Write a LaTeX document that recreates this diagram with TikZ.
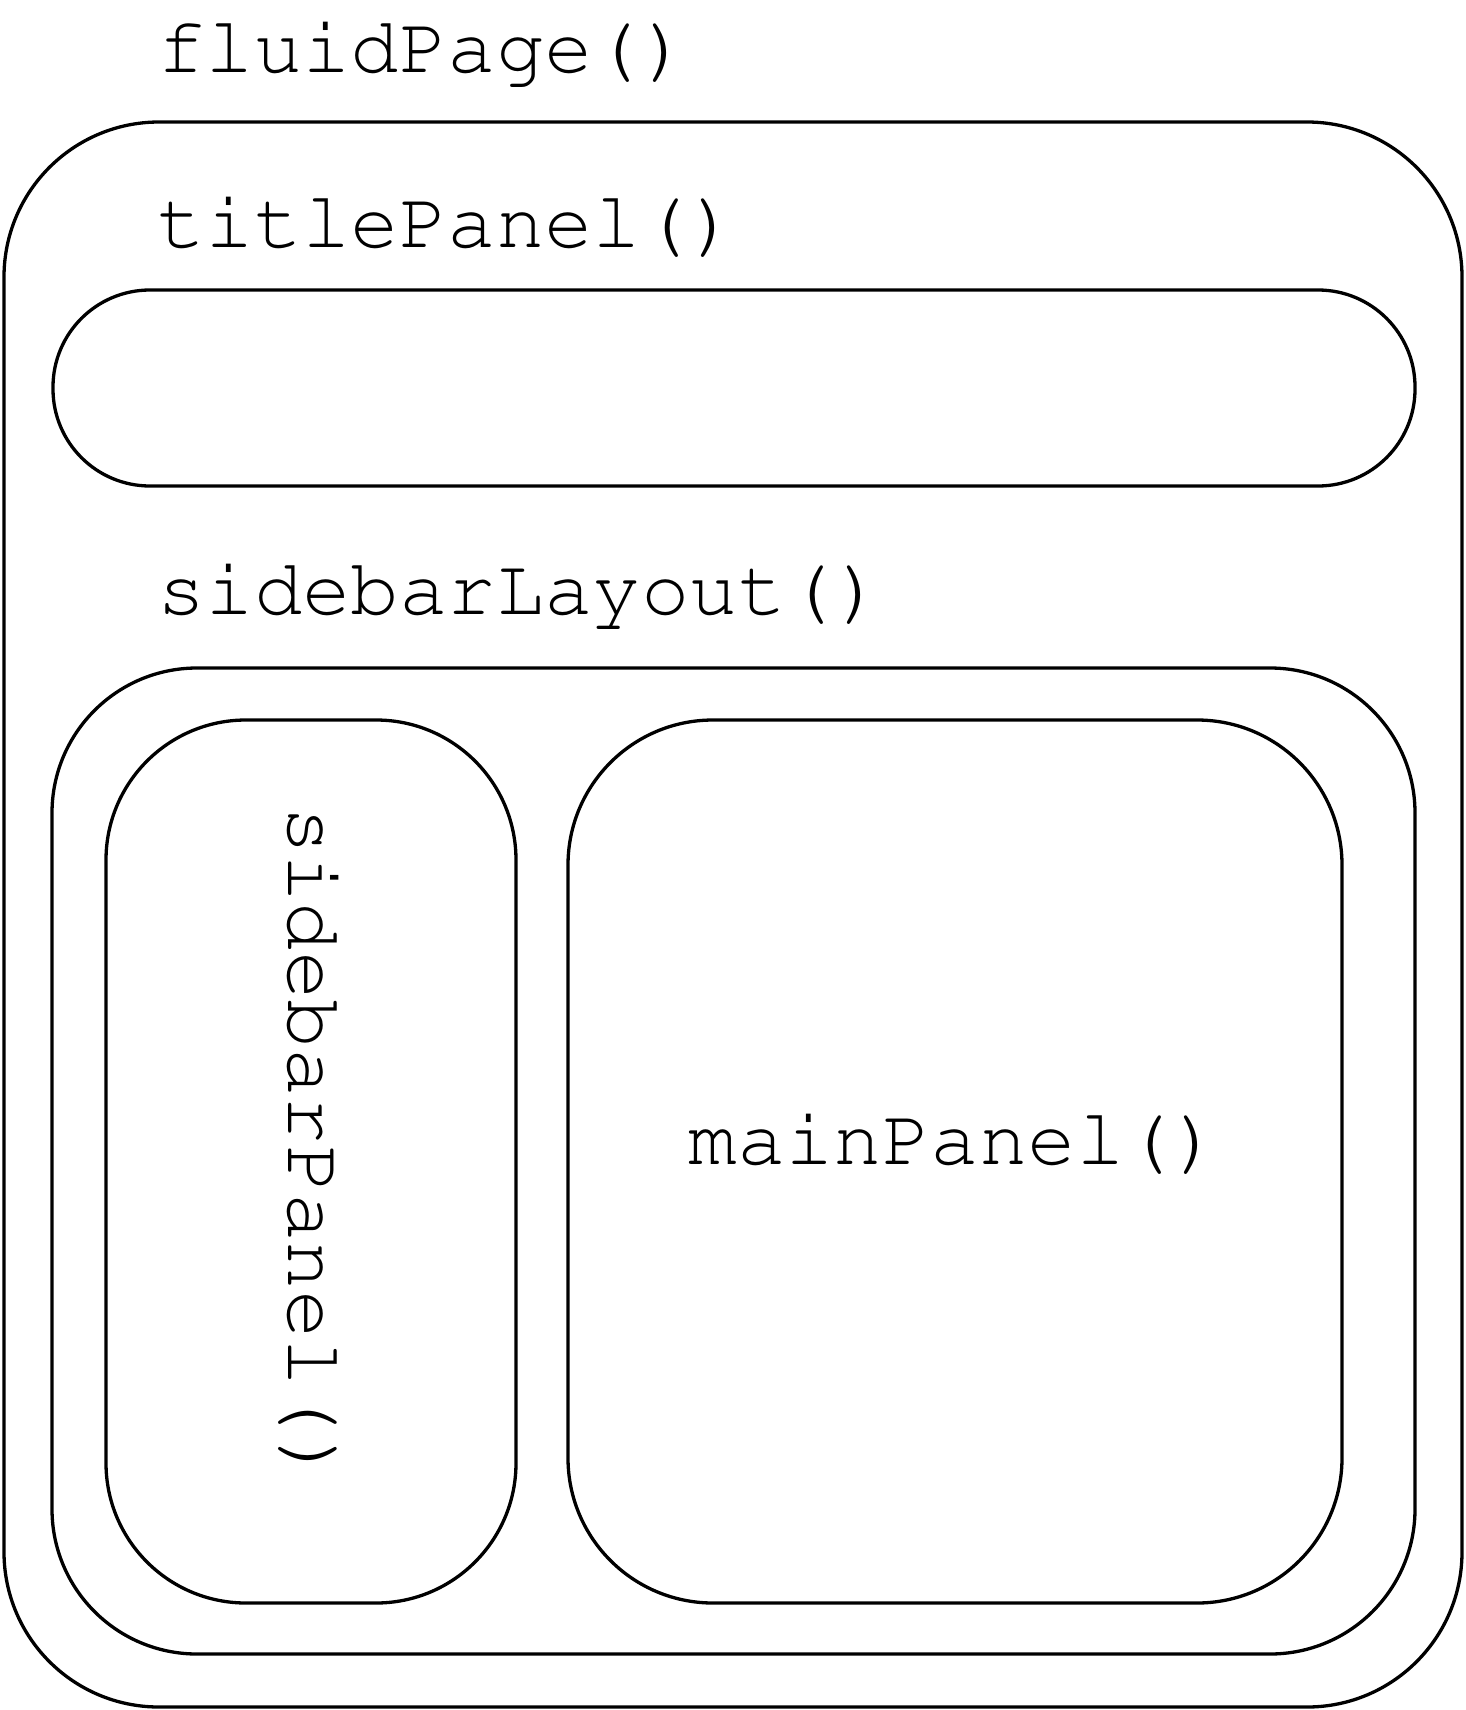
\documentclass[tikz,border=0pt]{standalone}
\usepackage[T1]{fontenc}
\usepackage{courier}
\usepackage{tikz}
\usetikzlibrary{positioning}

\begin{document}
\begin{tikzpicture}[x=1pt, y=-1pt,
		panel/.style={draw, line width=3.3pt, rectangle, inner sep=0pt},
		fname/.style={font=\ttfamily\fontsize{80.7}{80.7}\selectfont, inner sep=0pt}]
			\useasboundingbox (0,0) rectangle (1466,1710);
			\node[panel, minimum width=1458pt, minimum height=1585pt, rounded corners=155pt] (page) at (733,914.5) {};
			\node[panel, minimum width=1362pt, minimum height=196pt, rounded corners=97pt] (title) at (734,388) {};
			\node[panel, minimum width=1363pt, minimum height=986pt, rounded corners=145pt] (layout) at (733.5,1161) {};
			\node[panel, minimum width=410pt, minimum height=883pt, rounded corners=140pt] (side) at (311,1161.5) {};
			\node[panel, minimum width=774pt, minimum height=883pt, rounded corners=145pt] (main) at (955,1161.5) {};
			\node[fname, anchor=base west] (pagelbl) at (157,73) {fluidPage()};
			\node[fname, anchor=base west] (titlelbl) at (157,247) {titlePanel()};
			\node[fname, anchor=base west] (layoutlbl) at (157,614) {sidebarLayout()};
			\node[fname, anchor=base] (mainlbl) at (955,1164) {mainPanel()};
			\node[fname, anchor=base, rotate=-90] (sidelbl) at (288,1145) {sidebarPanel()};
		\end{tikzpicture}
\end{document}
